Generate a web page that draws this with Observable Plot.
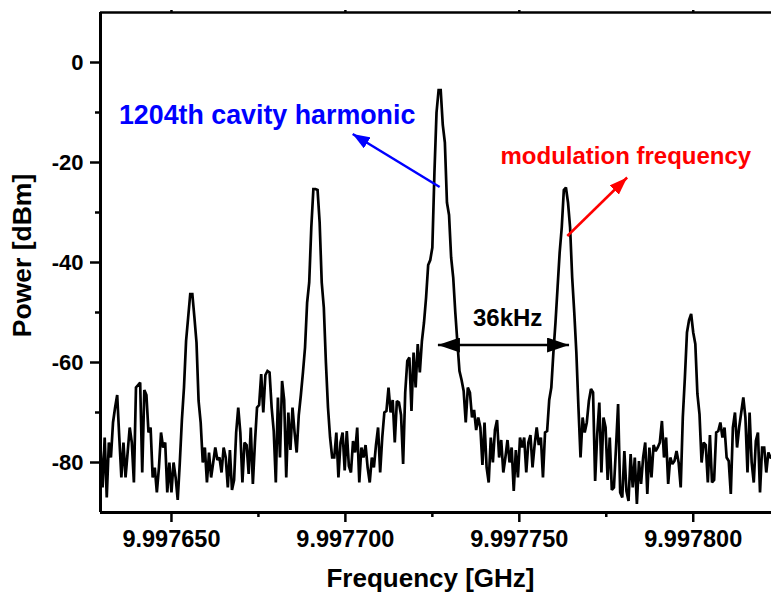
<!DOCTYPE html>
<html>
<head>
<meta charset="utf-8">
<script src="https://cdn.jsdelivr.net/npm/d3@7"></script>
<script src="https://cdn.jsdelivr.net/npm/@observablehq/plot@0.6"></script>
<style>
  body { margin: 0; background: #fff; }
  #chart svg text { font-family: "Liberation Sans", Arial, sans-serif; font-weight: bold; }
</style>
</head>
<body>
<div id="chart"></div>
<script>
// Spectrum-analyzer sweep: start frequency and bin width (GHz)
const freqStartGHz = 9.9976296;
const freqStepGHz = 0.0000006;
const powerDbm = [
  -77, -85, -75, -87, -76, -79, -72, -69, -66.5, -75,
  -83, -76, -83, -78, -73, -76, -84, -65, -64.5, -64,
  -82, -65.5, -66.5, -74, -73, -83, -81, -86, -81, -74,
  -77, -76, -86, -80, -86, -80, -83, -87.5, -80, -71.5,
  -65, -55.7, -51, -46.3, -46.3, -51, -56, -67.7, -72, -80,
  -77, -84, -78, -83, -80, -77, -79.5, -79, -82, -77,
  -79, -85, -77.5, -85.5, -83.5, -74, -69, -74, -84, -76,
  -76.5, -82.3, -73, -84.3, -76, -69, -68.5, -62.3, -70, -62.5,
  -61.7, -62, -69, -73.7, -84, -67, -79, -63.7, -67.5, -83,
  -70, -77.5, -69, -74, -78, -70.5, -66.5, -62, -57, -48,
  -44, -33, -25.3, -25.3, -25.5, -32, -44, -49, -60, -69,
  -75, -79, -79, -74, -83, -76, -74, -81.6, -73.7, -80.7,
  -82, -75.7, -78, -73, -84, -77, -79, -76.5, -81, -84,
  -79, -81, -76.5, -73, -82, -75, -70, -69.7, -65, -70,
  -67.5, -76, -67.7, -68, -70.5, -80.3, -66, -59.7, -59, -69.7,
  -58, -65, -56.3, -62, -55.7, -52, -47, -40.5, -39.5, -37,
  -22, -10, -5.5, -5.5, -12.5, -16, -28, -30.5, -39, -43,
  -50, -56, -61.7, -63.5, -65.7, -72, -65, -66, -71, -69.5,
  -73.5, -71, -73, -80.5, -72, -81, -84, -75, -80, -73.5,
  -71.5, -79, -75.5, -82, -79, -75.5, -80, -77, -85.7, -77.5,
  -83, -75, -77, -75, -82, -76, -74.5, -81, -76.5, -73,
  -76.5, -75, -83, -74, -73.7, -67.5, -65, -58, -52, -45,
  -38, -33, -25.5, -25, -28, -33, -43, -50, -58, -69,
  -79, -71, -74, -72, -67.7, -65.3, -66, -83.7, -74.3, -68,
  -82, -71, -73, -83.5, -75, -85.5, -85, -77, -68.3, -86,
  -87, -77.7, -85.7, -87.7, -78.3, -85, -79, -88.3, -79.7, -84.3,
  -79, -76, -86.3, -77, -83, -76.5, -77.7, -77, -76, -71.7,
  -79, -75, -84.3, -79, -80.3, -79.7, -77.7, -80, -85, -71,
  -63, -54, -51.5, -50.3, -54, -56.3, -66.3, -70.3, -80, -76,
  -76.5, -84, -74.5, -84, -83.5, -74, -73.7, -72, -75, -73,
  -79, -79.7, -86.3, -73, -70, -77, -73, -70, -67, -71,
  -82, -70, -80, -84, -75.7, -74, -86, -77, -77, -82,
  -78, -79
];

// Axes
const xDomain = [9.9976296, 9.9978225];
const yDomain = [-90, 10];
const xTicks = [9.99765, 9.9977, 9.99775, 9.9978];
const xMinorTicks = [9.997675, 9.997725, 9.997775];
const yTicks = [0, -20, -40, -60, -80];
const yMinorTicks = [-10, -30, -50, -70];
const xTitle = "Frequency [GHz]";
const yTitle = "Power [dBm]";

// Annotations
const harmonicLabel = ["1204th cavity harmonic"];
const harmonicLabelF = [9.9976349];
const harmonicLabelP = [-10.5];
const modLabel = ["modulation frequency"];
const modLabelF = [9.9977446];
const modLabelP = [-18.8];
const spanLabel = ["36kHz"];
const spanLabelF = [9.99774665];
const spanLabelP = [-51.2];
const harmonicArrowF = [9.9977271, 9.9977021];
const harmonicArrowP = [-24.9, -14.3];
const modArrowF = [9.9977638, 9.9977810];
const modArrowP = [-34.7, -23.0];
const spanArrowF = [9.9977266, 9.9977643];
const spanArrowP = [-56.5, -56.5];

const spectrum = powerDbm.map((p, i) => ({f: freqStartGHz + i * freqStepGHz, p}));
const seg = (F, P) => [{x1: F[0], y1: P[0], x2: F[1], y2: P[1]}];
const lbl = (T, F, P) => T.map((t, i) => ({t, f: F[i], p: P[i]}));

const plot = Plot.plot({
  width: 771,
  height: 595,
  marginLeft: 100,
  marginRight: 0,
  marginTop: 12,
  marginBottom: 83,
  x: {domain: xDomain, label: null},
  y: {domain: yDomain, label: null},
  style: {fontFamily: "Liberation Sans, Arial, sans-serif", fontWeight: "bold", background: "white", overflow: "visible", color: "black"},
  marks: [
    Plot.line(spectrum, {x: "f", y: "p", stroke: "black", strokeWidth: 2.7, clip: true, strokeLinejoin: "miter", strokeMiterlimit: 2}),
    Plot.axisY({ticks: yTicks, tickSize: 10, tickPadding: 7, fontSize: 22, fontWeight: "bold", strokeWidth: 2.5, label: null, tickFormat: d => String(d)}),
    Plot.axisY({ticks: yMinorTicks, tickSize: 5, strokeWidth: 2.5, label: null, tickFormat: () => ""}),
    Plot.axisX({ticks: xTicks, tickSize: 10, tickPadding: 8, fontSize: 23.5, fontWeight: "bold", strokeWidth: 2.5, label: null, tickFormat: d3.format(".6f")}),
    Plot.axisX({ticks: xMinorTicks, tickSize: 5, strokeWidth: 2.5, label: null, tickFormat: () => ""}),
    Plot.axisX({anchor: "top", ticks: xTicks, tickSize: 3, strokeWidth: 2.5, label: null, tickFormat: () => ""}),
    Plot.ruleX([xDomain[0]], {stroke: "black", strokeWidth: 3}),
    Plot.ruleY([yDomain[0]], {stroke: "black", strokeWidth: 3}),
    Plot.ruleY([yDomain[1]], {stroke: "black", strokeWidth: 2.5}),
    Plot.text([xTitle], {frameAnchor: "bottom", lineAnchor: "middle", textAnchor: "middle", dx: -5.5, dy: 66, fontSize: 26, fontWeight: "bold", fill: "black"}),
    Plot.text([yTitle], {frameAnchor: "left", lineAnchor: "middle", textAnchor: "middle", dx: -78, dy: -7, rotate: -90, fontSize: 26.5, fontWeight: "bold", fill: "black"}),
    Plot.text(lbl(harmonicLabel, harmonicLabelF, harmonicLabelP), {x: "f", y: "p", text: "t", textAnchor: "start", fill: "#0000ff", fontSize: 26.8, fontWeight: "bold"}),
    Plot.text(lbl(modLabel, modLabelF, modLabelP), {x: "f", y: "p", text: "t", textAnchor: "start", fill: "#ff0000", fontSize: 24, fontWeight: "bold"}),
    Plot.text(lbl(spanLabel, spanLabelF, spanLabelP), {x: "f", y: "p", text: "t", fill: "black", fontSize: 24, fontWeight: "bold"}),
    Plot.link(seg(harmonicArrowF, harmonicArrowP), {x1: "x1", y1: "y1", x2: "x2", y2: "y2", stroke: "#0000ff", strokeWidth: 2.5}),
    Plot.link(seg(modArrowF, modArrowP), {x1: "x1", y1: "y1", x2: "x2", y2: "y2", stroke: "#ff0000", strokeWidth: 2.5}),
    Plot.link(seg(spanArrowF, spanArrowP), {x1: "x1", y1: "y1", x2: "x2", y2: "y2", stroke: "black", strokeWidth: 2.5})
  ]
});

// Filled arrowheads
const svg = d3.select(plot);
const defs = svg.append("defs");
function addMarker(id, color, len, wid) {
  defs.append("marker")
    .attr("id", id)
    .attr("viewBox", `0 0 ${len} ${wid}`)
    .attr("refX", len).attr("refY", wid / 2)
    .attr("markerUnits", "userSpaceOnUse")
    .attr("markerWidth", len).attr("markerHeight", wid)
    .attr("orient", "auto-start-reverse")
    .append("path")
    .attr("d", `M0,0L${len},${wid / 2}L0,${wid}Z`)
    .attr("fill", color);
}
addMarker("head-blue", "#0000ff", 17, 13);
addMarker("head-red", "#ff0000", 18, 13);
addMarker("head-black", "black", 22, 15);
const linkGroups = svg.selectAll('g[aria-label="link"]').nodes();
const ids = ["head-blue", "head-red", "head-black"];
linkGroups.forEach((g, k) => {
  d3.select(g).selectAll("path, line").each(function() {
    d3.select(this).attr("marker-end", `url(#${ids[k]})`);
    if (k === 2) d3.select(this).attr("marker-start", `url(#${ids[k]})`);
  });
});

document.getElementById("chart").appendChild(plot);
</script>
</body>
</html>
